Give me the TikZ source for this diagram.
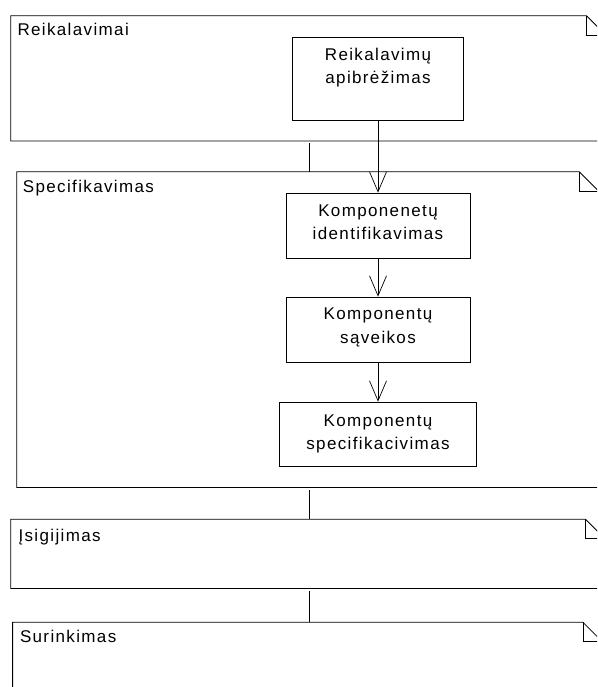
\documentclass[tikz,border=0pt]{standalone}
\usepackage{fontspec}
\setmainfont{Liberation Sans}[LetterSpace=8]
\usetikzlibrary{arrows.meta}
\begin{document}
\begin{tikzpicture}[x=1pt,y=-1pt,
  every node/.style={font=\fontsize{17}{23.5}\selectfont},
  pkg/.style={rectangle, draw=none, inner sep=0pt, anchor=north west},
  pkgline/.style={draw=black, line width=0.8pt, line join=miter},
  title/.style={anchor=base west, inner sep=0pt},
  stepbox/.style={rectangle, draw=black, line width=0.8pt, inner sep=0pt, anchor=north},
  steptext/.style={align=center, inner sep=0pt, anchor=north},
  flow/.style={draw=black, line width=0.7pt, -{Straight Barb[length=20pt,width=17pt]}},
  link/.style={draw=black, line width=0.7pt}]
\useasboundingbox (0,0) rectangle (597,687);
\clip (0,0) rectangle (597,687);

% packages (folded-corner frames, right edges run past the page)
\node[pkg, minimum width=594.8pt, minimum height=125pt]   (req)  at (10.7,15.7)  {};
\node[pkg, minimum width=581.6pt, minimum height=315.3pt] (spec) at (16.7,171.7) {};
\node[pkg, minimum width=594pt,   minimum height=68.7pt]  (acq)  at (10.7,519.3) {};
\node[pkg, minimum width=589.4pt, minimum height=100pt]   (asm)  at (12.6,622.3) {};

\foreach \p in {req,spec,acq,asm}{
  \draw[pkgline] (\p.north west) -- ([xshift=-19.5pt]\p.north east)
    -- ([yshift=-19.5pt]\p.north east) -- (\p.south east) -- (\p.south west) -- cycle;
  \draw[pkgline] ([xshift=-19.5pt]\p.north east)
    -- ([xshift=-19.5pt,yshift=-19.5pt]\p.north east) -- ([yshift=-19.5pt]\p.north east);
}

% package titles
\node[title] (reqT)  at (17.3,35.7)  {Reikalavimai};
\node[title] (specT) at (22.7,192.3) {Specifikavimas};
\node[title] (acqT)  at (18.3,541)   {Įsigijimas};
\node[title] (asmT)  at (19.8,642.3) {Surinkimas};

% activity boxes
\node[stepbox, minimum width=170.3pt, minimum height=82.7pt] (b1) at (378,37.3)  {};
\node[stepbox, minimum width=184pt,   minimum height=65.6pt] (b2) at (378,192.7) {};
\node[stepbox, minimum width=184pt,   minimum height=65pt]   (b3) at (378,296.7) {};
\node[stepbox, minimum width=197.4pt, minimum height=64pt]   (b4) at (378,401.7) {};

\node[steptext] (b1t) at ([yshift=-10.3pt]b1.north) {Reikalavimų\\apibrėžimas};
\node[steptext] (b2t) at ([yshift=-11.8pt]b2.north) {Komponenetų\\identifikavimas};
\node[steptext] (b3t) at ([yshift=-11.1pt]b3.north) {Komponentų\\sąveikos};
\node[steptext] (b4t) at ([yshift=-12.8pt]b4.north) {Komponentų\\specifikacivimas};

% flow between activities
\draw[flow] (b1) -- (b2);
\draw[flow] (b2) -- (b3);
\draw[flow] (b3) -- (b4);

% links between packages
\coordinate (l1) at (309.5,143.5);
\coordinate (l2) at (309.5,490.3);
\coordinate (l3) at (309.5,591.3);
\draw[link] (l1) -- (l1 |- spec.north);
\draw[link] (l2) -- (l2 |- acq.north);
\draw[link] (l3) -- (l3 |- asm.north);
\end{tikzpicture}
\end{document}
